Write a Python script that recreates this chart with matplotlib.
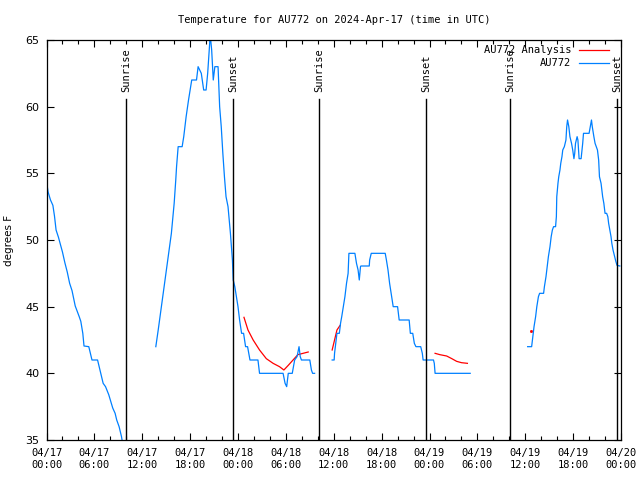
import numpy as np
import pandas as pd
import matplotlib
matplotlib.use("Agg")
import matplotlib.pyplot as plt
import matplotlib.dates as mdates

# --- data (hours after 2024-04-17 00:00 UTC, degrees F); NaN = gap ---
obs_hours = [0.1, 0.2, 0.5, 0.8, 1.0, 1.2, 1.5, 1.7, 2.0, 2.3, 2.6, 2.9, 3.2, 3.6, 4.1, 4.3,
             4.55, 4.7, 5.3, 5.5, 5.7, 6.4, 6.6, 6.8, 7.1, 7.4, 7.8, 8.0, 8.3, 8.6, 8.8, 9.1,
             9.4, 9.6, np.nan,
             13.7, 14.0, 14.4, 14.8, 15.2, 15.65, 16.0, 16.2, 16.3, 16.5, 17.0, 17.2, 17.5,
             17.8, 18.2, 18.8, 19.0, 19.4, 19.7, 20.0, 20.2, 20.45, 20.5, 20.7, 20.9, 21.1,
             21.5, 21.7, 21.9, 22.1, 22.3, 22.5, 22.75, 23.05, 23.3, 23.4, 23.6, 23.8, 24.0,
             24.2, 24.45, 24.7, 24.95, 25.2, 25.5, 26.5, 26.7, 29.65, 29.9, 30.1, 30.3, 30.8,
             31.1, 31.4, 31.65, 31.8, 31.95, 33.0, 33.2, 33.35, 33.6, np.nan,
             35.8, 36.05, 36.1, 36.3, 36.4, 36.7, 36.85, 37.0, 37.2, 37.4, 37.6, 37.8, 37.9,
             38.65, 38.85, 39.05, 39.2, 39.35, 39.4, 40.45, 40.5, 40.7, 42.45, 42.6, 42.8,
             43.0, 43.25, 43.45, 44.0, 44.2, 45.45, 45.6, 45.9, 46.1, 46.3, 46.9, 47.1, 47.2,
             48.5, 48.6, 48.7, 53.1, np.nan,
             60.3, 60.8, 60.95, 61.1, 61.3, 61.45, 61.65, 61.8, 62.3, 62.4, 62.6, 62.75, 62.9,
             63.1, 63.25, 63.4, 63.55, 63.8, 63.9, 63.95, 64.1, 64.2, 64.35, 64.45, 64.6, 64.7,
             64.9, 65.1, 65.2, 65.3, 65.46, 65.6, 65.8, 65.95, 66.1, 66.2, 66.3, 66.5, 66.6,
             66.75, 67.0, 67.2, 67.3, 68.0, 68.15, 68.3, 68.4, 68.6, 68.75, 68.9, 69.05, 69.2,
             69.3, 69.5, 69.6, 69.7, 69.85, 70.0, 70.2, 70.35, 70.45, 70.6, 70.75, 70.85, 71.0,
             71.2, 71.35, 71.5, 71.85]
obs_temps = [54.0, 53.6, 53.0, 52.6, 51.8, 50.75, 50.2, 49.75, 49.1, 48.3, 47.6, 46.75, 46.2,
             45.05, 44.25, 43.9, 43.0, 42.05, 42.0, 41.5, 41.0, 41.0, 40.5, 40.0, 39.25, 39.0,
             38.4, 38.0, 37.4, 37.0, 36.5, 36.0, 35.25, 34.5, np.nan,
             42.0, 43.25, 45.0, 46.75, 48.5, 50.5, 52.75, 54.5, 55.5, 57.0, 57.0, 57.75, 59.25,
             60.5, 62.0, 62.0, 63.0, 62.5, 61.25, 61.25, 62.5, 64.75, 65.5, 64.25, 62.0, 63.0,
             63.0, 60.0, 58.5, 56.5, 54.75, 53.25, 52.5, 50.5, 48.5, 47.0, 46.5, 45.75, 45.0,
             44.0, 43.0, 43.0, 42.0, 42.0, 41.0, 41.0, 40.0, 40.0, 39.25, 39.0, 40.0, 40.0,
             41.0, 41.25, 42.0, 41.25, 41.0, 41.0, 40.25, 40.0, 40.0, np.nan,
             41.0, 41.0, 41.5, 42.5, 43.0, 43.0, 43.75, 44.25, 45.0, 45.75, 46.75, 47.5, 49.0,
             49.0, 48.25, 47.75, 47.0, 48.0, 48.05, 48.05, 48.5, 49.0, 49.0, 48.5, 47.75,
             46.75, 45.75, 45.0, 45.0, 44.0, 44.0, 43.0, 43.0, 42.25, 42.0, 42.0, 41.5, 41.0,
             41.0, 40.75, 40.0, 40.0, np.nan,
             42.0, 42.0, 42.75, 43.5, 44.25, 45.0, 45.75, 46.0, 46.0, 46.5, 47.25, 48.0, 48.75,
             49.5, 50.25, 50.75, 51.0, 51.0, 51.75, 53.25, 54.25, 54.75, 55.25, 55.75, 56.25,
             56.75, 57.0, 57.5, 58.5, 59.0, 58.5, 57.75, 57.25, 56.75, 56.1, 56.5, 57.25, 57.75,
             57.5, 56.1, 56.1, 57.25, 58.0, 58.0, 58.5, 59.0, 58.5, 57.75, 57.25, 57.0, 56.75,
             56.0, 54.75, 54.25, 53.75, 53.25, 52.75, 52.0, 52.0, 51.75, 51.25, 50.75, 50.25,
             49.75, 49.25, 48.75, 48.4, 48.1, 48.05]

ana_hours = [24.75, 25.25, 25.9, 26.7, 27.55, 28.4, 29.2, 29.75, 30.3, 30.9, 31.5, 32.15, 32.8,
             np.nan, 35.8, 36.1, 36.4, 36.8,
             np.nan, 48.7, 49.3, 50.15, 50.8, 51.4, 52.0, 52.75]
ana_temps = [44.2, 43.25, 42.5, 41.75, 41.1, 40.75, 40.5, 40.25, 40.6, 41.0, 41.4, 41.5, 41.6,
             np.nan, 41.75, 42.5, 43.25, 43.6,
             np.nan, 41.5, 41.4, 41.3, 41.1, 40.9, 40.8, 40.75]
ana_dot_hours = [60.75]
ana_dot_temps = [43.2]

sunrise_hours = [9.97, 34.2, 58.15]
sunset_hours = [23.4, 47.6, 71.55]

t0 = pd.Timestamp("2024-04-17 00:00")


def to_time(h):
    return t0 + pd.to_timedelta(np.asarray(h, dtype=float), unit="h")


mono = "DejaVu Sans Mono"
fig = plt.figure(figsize=(6.4, 4.8), dpi=100)
ax = fig.add_axes([46.5 / 640, 40 / 480, (621 - 46.5) / 640, 400 / 480])

ax.plot(to_time(ana_hours), ana_temps, color="#ff0000", lw=0.9, label="AU772 Analysis")
ax.plot(to_time(ana_dot_hours), ana_dot_temps, color="#ff0000", marker="s", ms=1, lw=0)
ax.plot(to_time(obs_hours), obs_temps, color="#0080ff", lw=0.9, label="AU772")

top_line = 60.6
for hrs, name in [(sunrise_hours, "Sunrise"), (sunset_hours, "Sunset")]:
    for h in hrs:
        x = to_time([h])[0]
        ax.plot([x, x], [35, top_line], color="black", lw=1.0)
        ax.text(x, 61.1, name, rotation=90, ha="center", va="bottom",
                fontsize=7.5, family=mono)

ax.set_xlim(to_time([0])[0], to_time([72])[0])
ax.set_ylim(35, 65)
ax.set_yticks(np.arange(35, 66, 5))
ax.xaxis.set_major_locator(mdates.HourLocator(byhour=[0, 6, 12, 18]))
ax.xaxis.set_minor_locator(mdates.HourLocator(interval=2))
ax.xaxis.set_major_formatter(mdates.DateFormatter("%m/%d\n%H:%M"))
ax.tick_params(which="both", direction="in", top=True, right=True, width=0.8)
ax.tick_params(which="major", length=5)
ax.tick_params(which="minor", length=3)
ax.tick_params(axis="x", labelsize=7.5, pad=6)
ax.tick_params(axis="y", labelsize=8, pad=5)
for lab in ax.get_xticklabels():
    lab.set_family(mono)
for s in ax.spines.values():
    s.set_linewidth(0.9)

ax.set_ylabel("degrees F", fontsize=7.5, labelpad=8)
ax.set_title("Temperature for AU772 on 2024-Apr-17 (time in UTC)", fontsize=7.5,
             family=mono, pad=12)

ax.legend(loc="upper right", bbox_to_anchor=(1 - 5 / 574.5, 1 + 2 / 400), frameon=False,
          markerfirst=False, prop={"family": mono, "size": 7.5},
          handlelength=2.9, handletextpad=0.7, labelspacing=0.3, borderaxespad=0.3)

fig.savefig("out.png", dpi=100)
